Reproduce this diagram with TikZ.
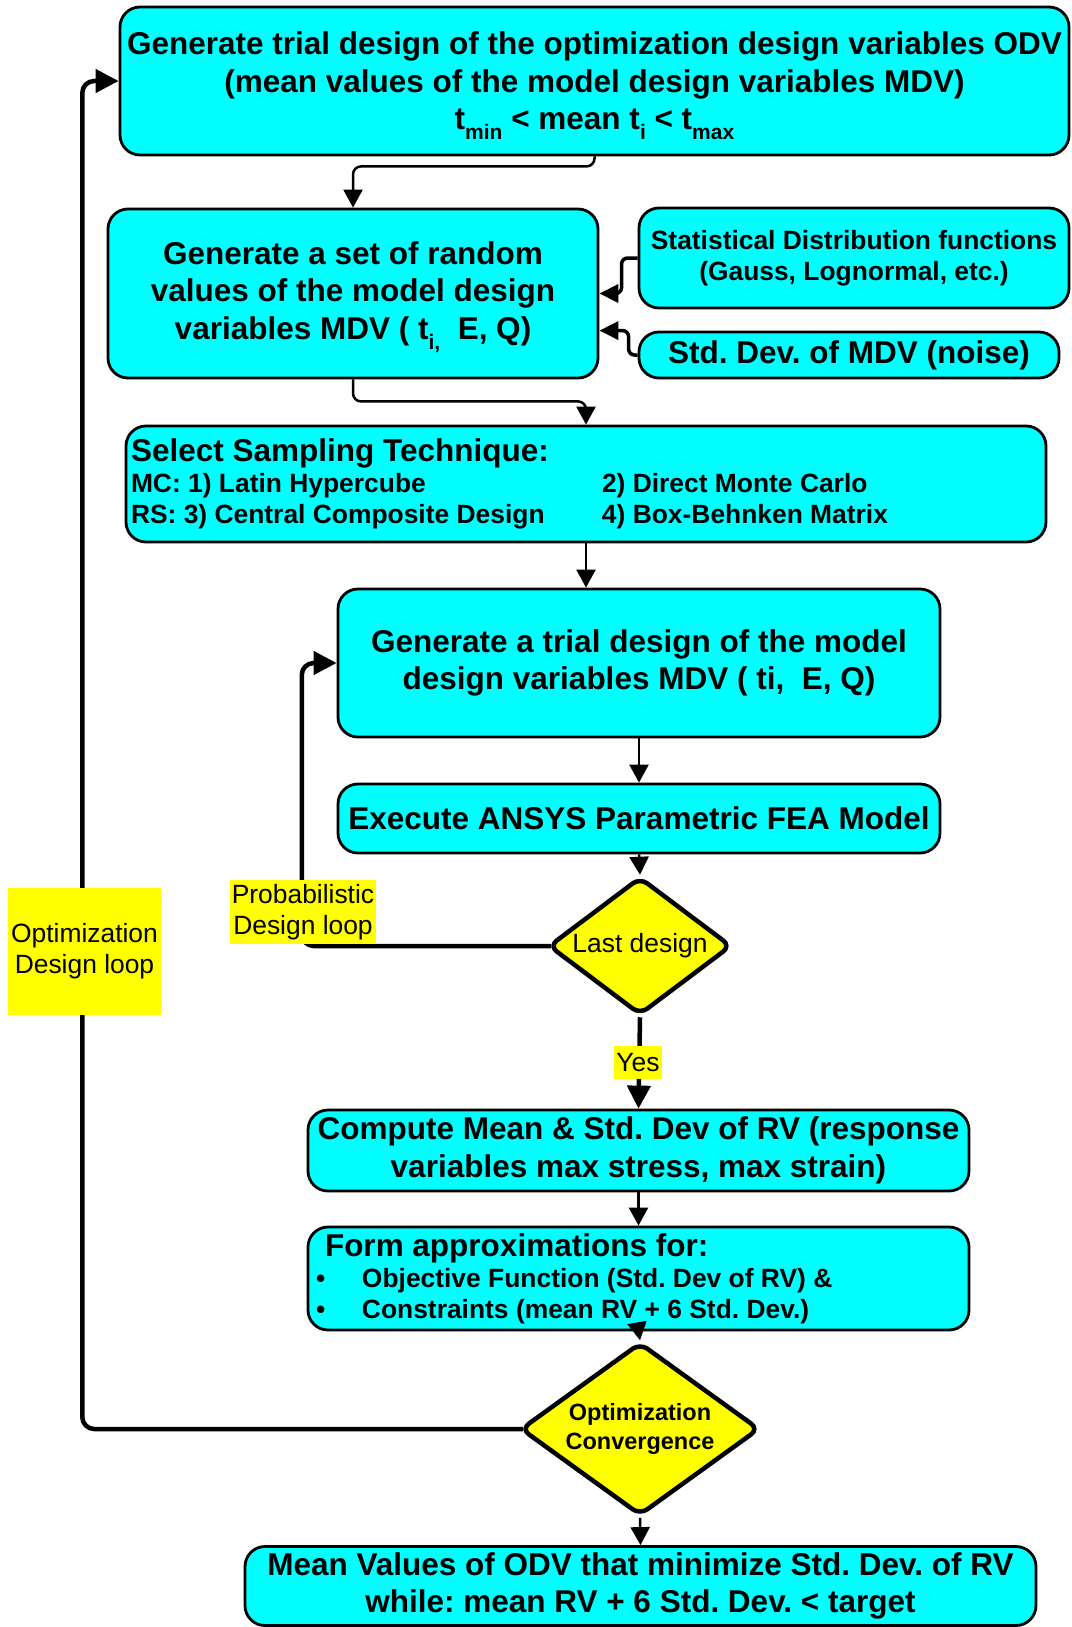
\documentclass[tikz,border=0pt]{standalone}
\usepackage{fontspec}
\setmainfont{Liberation Sans}
\usetikzlibrary{shapes.geometric}
\usetikzlibrary{arrows.meta}
\setlength{\parindent}{0pt}
\frenchspacing
\definecolor{boxcyan}{RGB}{0,255,255}
\definecolor{notey}{RGB}{255,255,0}
\newcommand{\tsub}[1]{\smash{\raisebox{-0.32em}{\fontsize{21}{21}\selectfont #1}}}

\begin{document}
\begin{tikzpicture}[
            x=1pt, y=-1pt,
            box/.style={draw=black, fill=boxcyan, line width=2.8pt, rounded corners=20pt, align=center, inner sep=3pt, font=\fontsize{31.5}{37.5}\selectfont\bfseries},
            smallbox/.style={box, font=\fontsize{26.4}{31}\selectfont\bfseries},
            decision/.style={diamond, draw=black, fill=notey, line width=4.5pt, rounded corners=9pt, align=center, inner sep=0pt},
            looplabel/.style={fill=notey, align=center, inner sep=1pt, font=\fontsize{26.4}{31}\selectfont},
            arrowline/.style={line width=2.5pt, rounded corners=8pt, -{Triangle[length=18pt, width=19pt]}},
            sideline/.style={line width=3.5pt, rounded corners=6pt, -{Triangle[length=19pt, width=18pt]}},
            loopline/.style={line width=4.5pt, rounded corners=12pt, -{Triangle[length=23pt, width=23pt]}}
        ]
            \useasboundingbox (0,0) rectangle (1071,1627);

            % design variables
            \node[box, minimum width=949, minimum height=148] (odv) at (594.5,81) {Generate trial design of the optimization design variables ODV\\(mean values of the model design variables MDV)\\t\tsub{min} < mean t\tsub{i} < t\tsub{max}};
            \node[box, minimum width=490, minimum height=169] (rnd) at (353,293.5) {Generate a set of random\\values of the model design\\variables MDV ( t\tsub{i,}\ \ E, Q)};
            \node[smallbox, minimum width=430, minimum height=100] (dist) at (854,258) {Statistical Distribution functions\\(Gauss, Lognormal, etc.)};
            \node[box, minimum width=420, minimum height=46] (noise) at (849,355) {Std. Dev. of MDV (noise)};

            % sampling
            \node[box, minimum width=920, minimum height=116, text width=910, align=flush left, inner xsep=5pt] (samp) at (586,484) {Select Sampling Technique:\par\fontsize{26.4}{31}\selectfont\makebox[471pt][l]{MC: 1) Latin Hypercube}2) Direct Monte Carlo\par\makebox[471pt][l]{RS: 3) Central Composite Design}4) Box-Behnken Matrix\par};

            % probabilistic loop
            \node[box, minimum width=602, minimum height=148] (trial) at (639,663) {Generate a trial design of the model\\design variables MDV ( ti,\ \ E, Q)};
            \node[box, minimum width=602, minimum height=69] (fea) at (639,818.5) {Execute ANSYS Parametric FEA Model};
            \node[decision, aspect=1.32, minimum width=183, minimum height=138, font=\fontsize{26.4}{31}\selectfont] (last) at (640,946) {Last design};

            % response variables
            \node[box, minimum width=661, minimum height=81] (comp) at (638.5,1150.5) {Compute Mean \& Std. Dev of RV (response\\variables max stress, max strain)};
            \node[box, minimum width=661, minimum height=103, text width=645, align=flush left, inner xsep=8pt] (form) at (638.5,1278.5) {\hspace*{9pt}Form approximations for:\par\fontsize{26.4}{31}\selectfont\makebox[46pt][l]{\textbullet}Objective Function (Std. Dev of RV) \&\par\makebox[46pt][l]{\textbullet}Constraints (mean RV + 6 Std. Dev.)\par};
            \node[decision, aspect=1.38, minimum width=239, minimum height=173, font=\fontsize{23.5}{29}\selectfont\bfseries] (conv) at (640,1429) {Optimization\\Convergence};
            \node[box, minimum width=791, minimum height=79] (final) at (640.5,1586) {Mean Values of ODV that minimize Std. Dev. of RV\\while: mean RV + 6 Std. Dev. < target};

            % arrows
            \draw[arrowline] (odv.south) -- ++(0,10) -| (rnd.north);
            \draw[sideline] (dist.west) -- ++(-16,0) |- (rnd.east);
            \draw[sideline] (noise.west) -- ++(-9,0) |- (rnd.east |- noise.north);
            \draw[arrowline] (rnd.south) -- ++(0,22) -| (samp.north);
            \draw[arrowline] (samp.south) -- (samp.south |- trial.north);
            \draw[arrowline] (trial.south) -- (fea.north);
            \draw[arrowline] (fea.south) -- (last.north);
            \draw[loopline] (last.south) -- (comp.north);
            \draw[arrowline] (comp.south) -- (form.north);
            \draw[arrowline] (form.south) -- (conv.north);
            \draw[arrowline] (conv.south) -- (final.north);

            % loops
            \draw[loopline] ([xshift=5pt]last.west) -- ++(-249.5,0) |- (trial.west);
            \draw[loopline] ([xshift=5pt]conv.west) -- ++(-441,0) |- (odv.west);

            % loop labels
            \node[looplabel, minimum width=146, minimum height=64] (problbl) at (303,912) {Probabilistic\\Design loop};
            \node[looplabel, minimum width=153, minimum height=127] (optlbl) at (84.5,951.5) {Optimization\\Design loop};
            \node[looplabel, minimum width=48, minimum height=33] (yes) at (638,1062.5) {Yes};

        \end{tikzpicture}
\end{document}
